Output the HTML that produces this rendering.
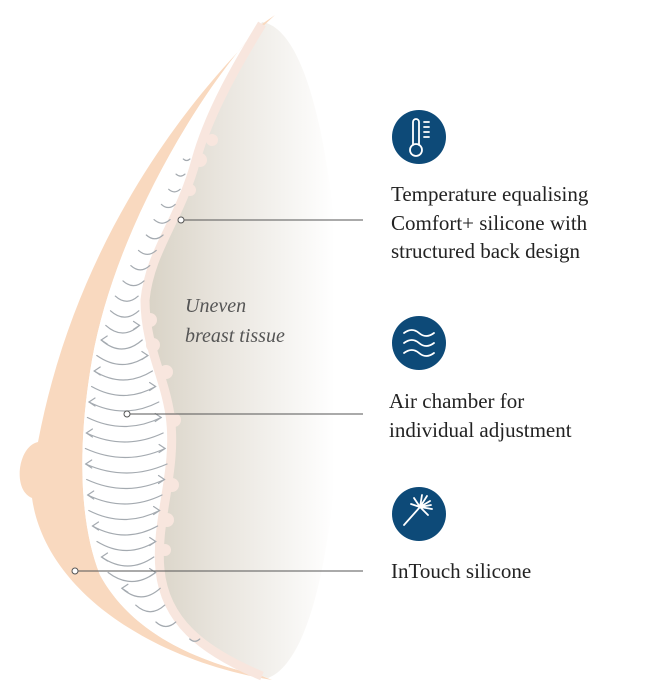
<!DOCTYPE html>
<html><head><meta charset="utf-8"><style>
html,body{margin:0;padding:0;background:#fff;}
svg{display:block;}
text{font-family:"Liberation Serif",serif;}
</style></head><body>
<svg width="667" height="698" viewBox="0 0 667 698" xmlns="http://www.w3.org/2000/svg">
<defs>
<linearGradient id="g" x1="145" y1="0" x2="335" y2="0" gradientUnits="userSpaceOnUse">
<stop offset="0" stop-color="#d8d2c5"/><stop offset="0.4" stop-color="#e9e5de"/><stop offset="1" stop-color="#ffffff"/>
</linearGradient>
</defs>
<path d="M262,22 C315,30 340,200 340,350 C340,520 315,660 268,678 L262,676 C200,650 165,620 160,570 C155,520 178,470 170,415 C164,375 145,345 145,300 C150,250 180,220 196,160 C210,110 240,60 262,22 Z" fill="url(#g)"/>
<path d="M275,15 C210,75 80,220 38,442 C18,446 12,490 32,498 C45,590 150,660 272,680 L262,676 C190,660 130,630 100,575 C78,520 78,440 92,360 C115,230 200,90 262,24 Z" fill="#f9d9bf"/>
<path d="M262,24 C200,90 115,230 92,360 C78,440 78,520 100,575 C130,630 190,660 262,676 C200,650 165,620 160,570 C155,520 178,470 170,415 C164,375 145,345 145,300 C150,250 180,220 196,160 C210,110 240,60 262,24 Z" fill="#fff"/>
<path d="M262,676 C200,650 165,620 160,570 C155,520 178,470 170,415 C164,375 145,345 145,300 C150,250 180,220 196,160 C210,110 240,60 262,24" fill="none" stroke="#f8e6de" stroke-width="9"/>
<g fill="#f8e6de">
<circle cx="212" cy="140" r="6"/><circle cx="200" cy="160" r="7"/><circle cx="190" cy="190" r="6"/><circle cx="150" cy="320" r="7"/><circle cx="153" cy="345" r="7"/><circle cx="166" cy="372" r="7"/><circle cx="174" cy="420" r="7"/><circle cx="172" cy="485" r="7"/><circle cx="167" cy="520" r="7"/><circle cx="165" cy="550" r="6"/>
</g>
<g id="arrows" fill="none" stroke="#a4aab0" stroke-width="1.2" stroke-linecap="round"></g>
<g stroke="#555" stroke-width="1" fill="#fff">
<line x1="184" y1="220" x2="363" y2="220"/><circle cx="181" cy="220" r="3"/>
<line x1="130" y1="414" x2="363" y2="414"/><circle cx="127" cy="414" r="3"/>
<line x1="78" y1="571" x2="363" y2="571"/><circle cx="75" cy="571" r="3"/>
</g>
<text x="185" y="312" font-size="20" font-style="italic" fill="#555">Uneven</text>
<text x="185" y="342" font-size="20" font-style="italic" fill="#555">breast tissue</text>
<g fill="#0d4a78">
<circle cx="419" cy="137" r="27"/><circle cx="419" cy="343" r="27"/><circle cx="419" cy="514" r="27"/>
</g>
<g stroke="#fff" stroke-width="1.8" fill="none" stroke-linecap="round">
<path d="M413,145 V122 a3,3 0 0 1 6,0 V145"/><circle cx="416" cy="150" r="6"/>
<path d="M424,122h5M424,127h5M424,132h5M424,137h5"/>
<path d="M404,333 q8,-6 15,0 t15,0 M404,343 q8,-6 15,0 t15,0 M404,353 q8,-6 15,0 t15,0"/>
<path d="M404,525 L420,507"/>
<path d="M420,507 l-6,-9 M420,507 l2,-12 M420,507 l10,-6 M420,507 l12,2 M420,507 l8,8 M420,507 l-9,-3 M420,507 l7,-11 M420,507 l11,-2"/>
</g>
<g font-size="21" fill="#222">
<text x="391" y="201">Temperature equalising</text>
<text x="391" y="230">Comfort+ silicone with</text>
<text x="391" y="258">structured back design</text>
<text x="389" y="408">Air chamber for</text>
<text x="389" y="437">individual adjustment</text>
<text x="391" y="578">InTouch silicone</text>
</g>
</svg>
<script>
(function(){
var g=document.getElementById('arrows');var s='';
function interp(pts,y){for(var i=0;i<pts.length-1;i++){if(y>=pts[i][0]&&y<=pts[i+1][0]){var f=(y-pts[i][0])/(pts[i+1][0]-pts[i][0]);return pts[i][1]+f*(pts[i+1][1]-pts[i][1]);}}return 262;}
var LP=[[24,262],[100,210],[150,183],[220,150],[300,110],[360,92],[414,83],[460,80],[520,84],[575,100],[620,140],[676,262]];
var RP=[[24,262],[100,224],[150,200],[220,178],[260,160],[300,145],[340,147],[370,158],[414,167],[470,174],[520,166],[570,160],[620,175],[676,262]];
var k=0;
for(var y=36;y<668;y+=15.5){k++;
  var a=interp(LP,y)+5,b=interp(RP,y)-7;if(b-a<5)continue;
  var m=(a+b)/2,w=b-a,sag=Math.min(12,w*0.3);
  s+='<path d="M'+a.toFixed(1)+','+(y-sag/2).toFixed(1)+' Q'+m.toFixed(1)+','+(y+sag).toFixed(1)+' '+b.toFixed(1)+','+(y-sag/2).toFixed(1)+'"/>';
  if(w>30){var right=(k%2==0);var ex=right?b:a,ey=y-sag/2,d=right?-1:1;
    s+='<path d="M'+(ex+6*d).toFixed(1)+','+(ey-4).toFixed(1)+' L'+ex.toFixed(1)+','+ey.toFixed(1)+' L'+(ex+6*d).toFixed(1)+','+(ey+4).toFixed(1)+'"/>';}
}
g.innerHTML=s;
})();
</script>
</body></html>
